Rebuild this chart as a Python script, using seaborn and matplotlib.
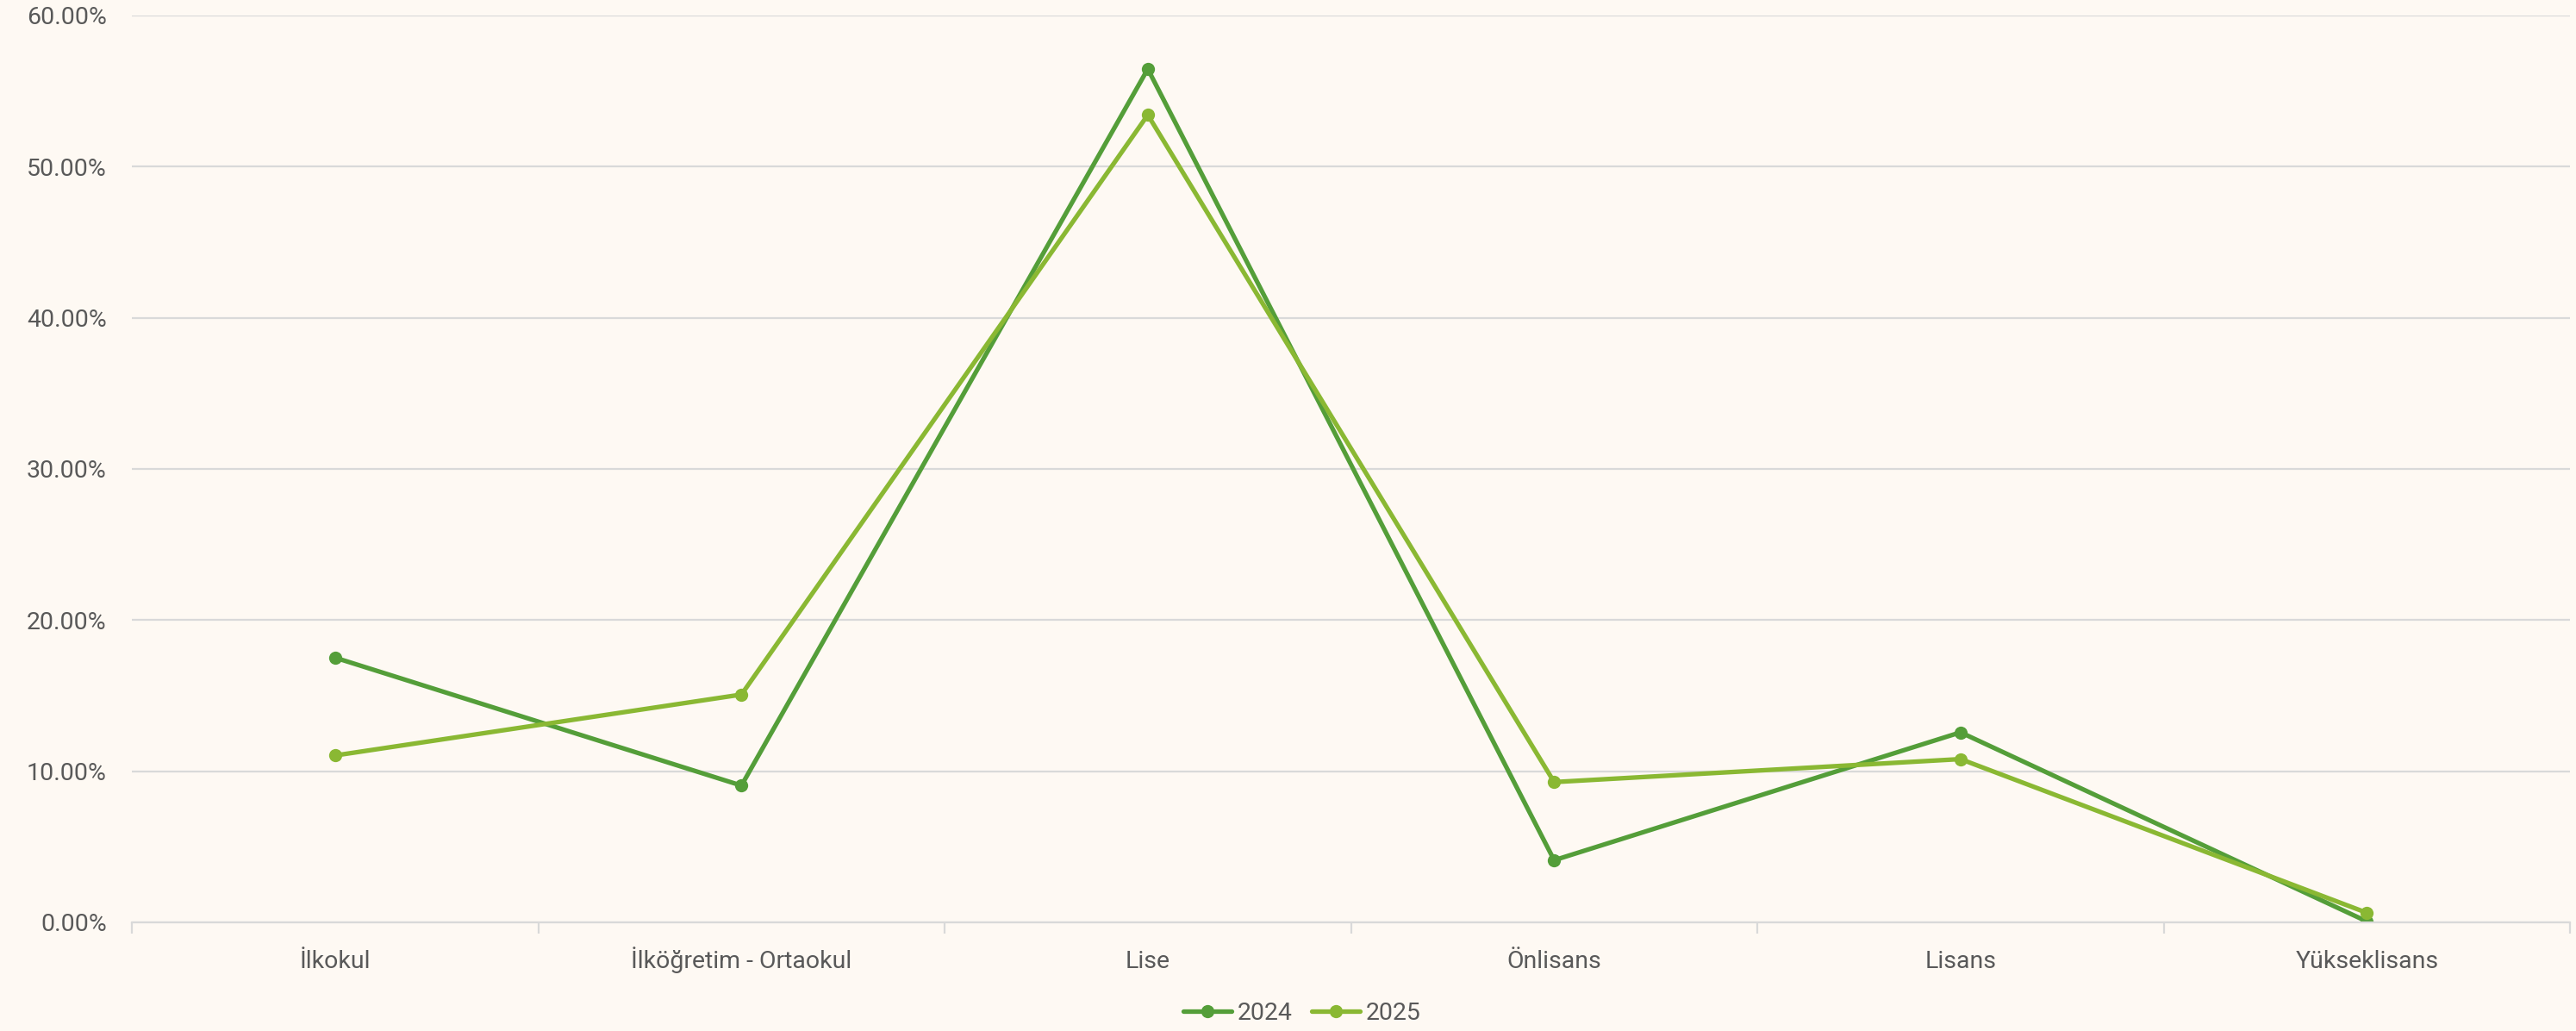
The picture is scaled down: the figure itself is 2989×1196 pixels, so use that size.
import numpy as np
import pandas as pd
import seaborn as sns
import matplotlib.pyplot as plt
from matplotlib.ticker import PercentFormatter, FixedLocator

# Education-level shares by year
categories = ["İlkokul", "İlköğretim - Ortaokul", "Lise", "Önlisans", "Lisans", "Yükseklisans"]
share_2024 = [17.51, 9.05, 56.46, 4.11, 12.57, 0.06]
share_2025 = [11.04, 15.07, 53.42, 9.28, 10.80, 0.63]
years = ["2024", "2025"]
y_ticks = [0, 10, 20, 30, 40, 50, 60]

df = pd.DataFrame({
    "Eğitim": categories * 2,
    "Oran": share_2024 + share_2025,
    "Yıl": [years[0]] * len(categories) + [years[1]] * len(categories),
})
df["Eğitim"] = pd.Categorical(df["Eğitim"], categories=categories, ordered=True)

bg = "#FEF9F3"
text_c = "#595959"
grid_c = "#D9D9D9"
palette = {"2024": "#549E39", "2025": "#8AB833"}

sns.set_theme(style="white")
plt.rcParams["font.family"] = ["Roboto", "DejaVu Sans"]

fig = plt.figure(figsize=(29.89, 11.96), dpi=100, facecolor=bg)
ax = fig.add_axes([0.0512, 0.1054, 0.9465, 0.8796])
ax.set_facecolor(bg)

sns.lineplot(data=df, x="Eğitim", y="Oran", hue="Yıl", palette=palette,
             marker="o", markersize=11, markeredgewidth=0, linewidth=3.8,
             sort=False, ax=ax, legend=True)

ax.set_xlim(-0.5, len(categories) - 0.5)
ax.set_ylim(0, 60)
ax.yaxis.set_major_locator(FixedLocator(y_ticks))
ax.yaxis.set_major_formatter(PercentFormatter(decimals=2))
ax.grid(axis="y", color=grid_c, linewidth=1.6)
ax.set_axisbelow(True)

for s in ["top", "right", "left"]:
    ax.spines[s].set_visible(False)
ax.spines["bottom"].set_color(grid_c)
ax.spines["bottom"].set_linewidth(1.6)

ax.set_xticks(range(len(categories)))
ax.set_xticklabels(categories, va="baseline")
ax.set_xticks(np.arange(-0.5, len(categories), 1.0), minor=True)
ax.tick_params(axis="x", which="major", length=0, pad=38, labelsize=20.5, labelcolor=text_c)
ax.tick_params(axis="x", which="minor", length=9, width=1.6, color=grid_c, direction="out", bottom=True)
ax.tick_params(axis="y", length=0, pad=21, labelsize=20.5, labelcolor=text_c)
ax.set_xlabel("")
ax.set_ylabel("")

handles, labels = ax.get_legend_handles_labels()
ax.get_legend().remove()
fig.legend(handles, labels, loc="center", bbox_to_anchor=(0.5055, 0.0175), ncol=2,
           frameon=False, fontsize=20.5, labelcolor=text_c, handlelength=1.95,
           handletextpad=0.25, columnspacing=0.8)

fig.savefig("out.png", dpi=100, facecolor=bg)
